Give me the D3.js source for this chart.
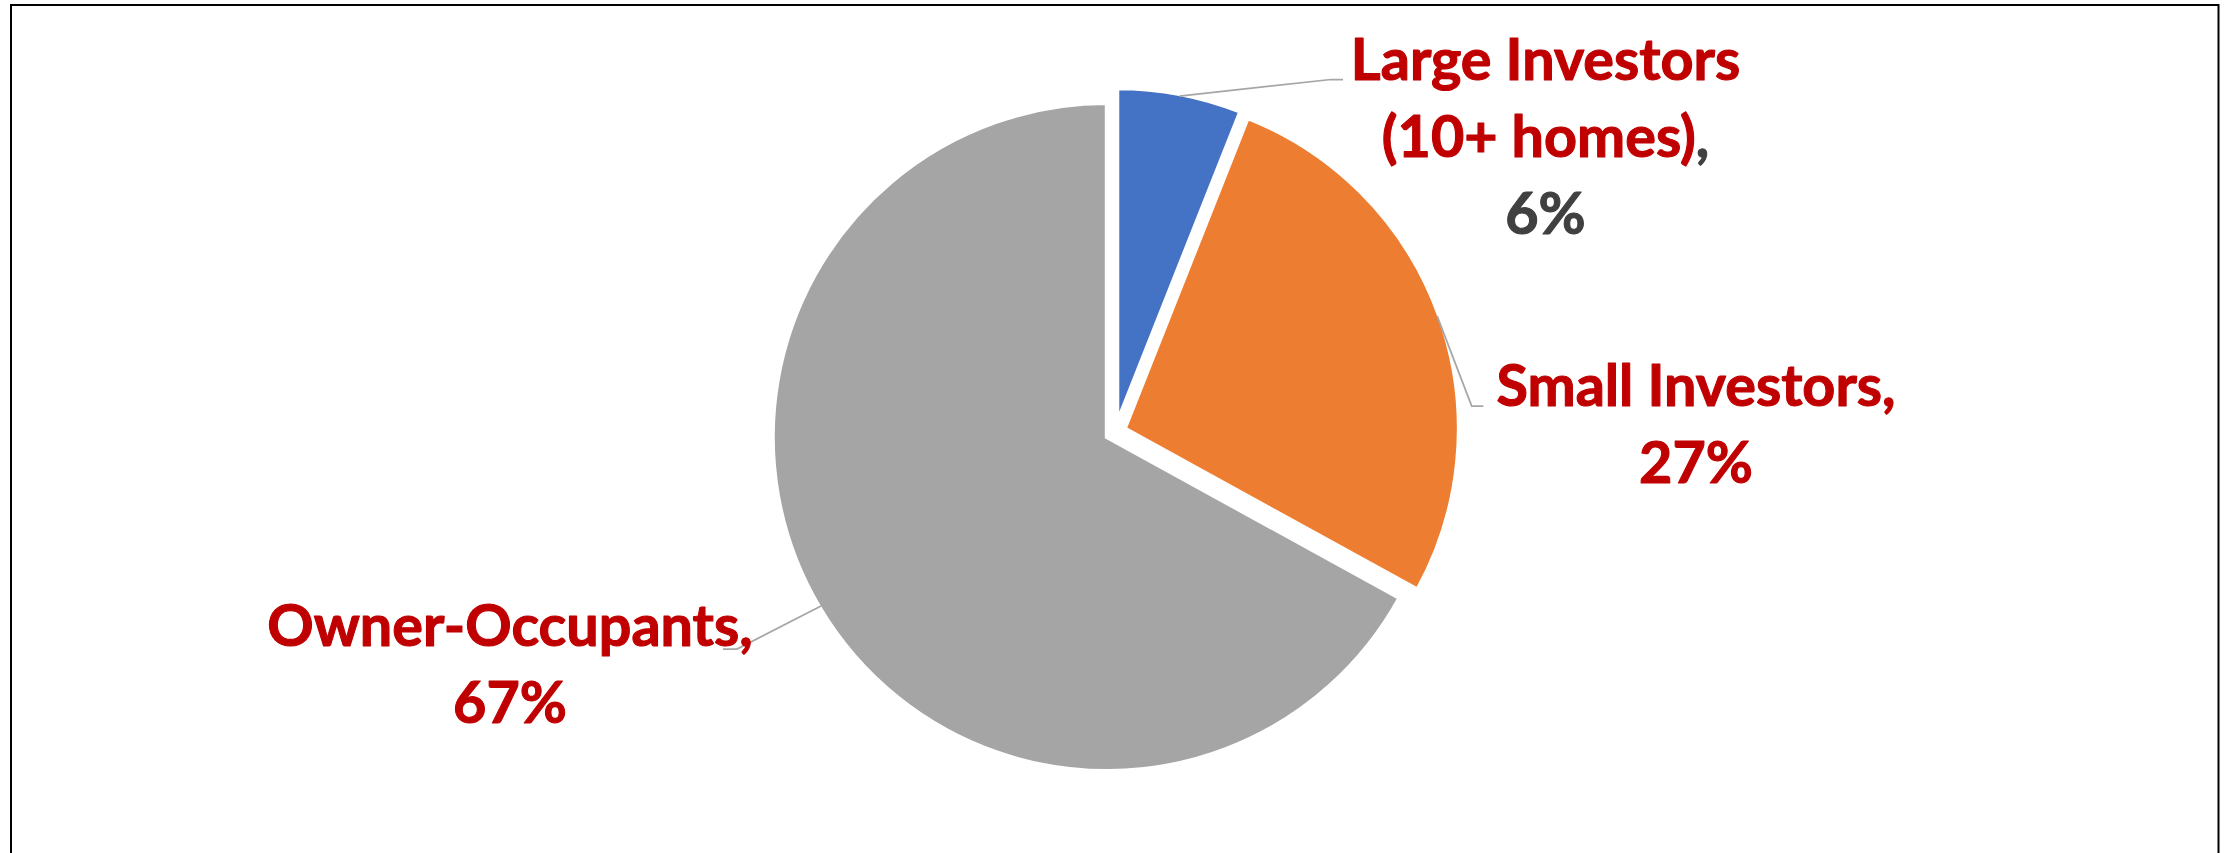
<!DOCTYPE html>
<html>
<head>
<meta charset="utf-8">
<script src="https://cdn.jsdelivr.net/npm/d3@7"></script>
<style>
  html, body { margin: 0; padding: 0; background: #fff; }
  svg { display: block; }
  .lbl { font-family: "Lato", "Noto Sans", sans-serif; font-weight: 700; }
</style>
</head>
<body>
<div id="chart"></div>
<script>
// Who bought the homes: share of purchases by buyer type (percent)
const categories = ["Large Investors", "Small Investors", "Owner-Occupants"];
const categoryNotes = ["(10+ homes)", "", ""];
const shares = [6, 27, 67];
const sliceColors = ["#4472C4", "#ED7D31", "#A5A5A5"];
const valueColors = ["#404040", "#C00000", "#C00000"];

const W = 2231, H = 853;
const svg = d3.select("#chart").append("svg")
  .attr("width", W).attr("height", H);

svg.append("rect").attr("width", W).attr("height", H).attr("fill", "#fff");

// Outer frame (bottom edge runs past the visible area)
svg.append("rect")
  .attr("x", 11).attr("y", 5)
  .attr("width", 2207.5).attr("height", 900)
  .attr("fill", "none").attr("stroke", "#000").attr("stroke-width", 2);

// Pie layout: clockwise from 12 o'clock, every slice pulled out a little
const cx = 1115.4, cy = 432, R = 334, explode = 10, gapStroke = 4;
const pie = d3.pie().sort(null).value(d => d);
const arcs = pie(shares);
const arc = d3.arc().innerRadius(0).outerRadius(R);

const mid = d => (d.startAngle + d.endAngle) / 2;
const offset = d => [explode * Math.sin(mid(d)), -explode * Math.cos(mid(d))];

const slices = svg.append("g").attr("transform", `translate(${cx},${cy})`);
slices.selectAll("path").data(arcs).join("path")
  .attr("transform", d => `translate(${offset(d)})`)
  .attr("d", arc)
  .attr("fill", (d, i) => sliceColors[i])
  .attr("stroke", "#fff")
  .attr("stroke-width", gapStroke)
  .attr("stroke-linejoin", "miter");

// Label placement: text centre / first baseline, and the leader's elbow and end
const labelLayout = [
  { x: 1545.5, y: 80,  elbow: [1331, 79.5],  end: [1343, 79.5] },
  { x: 1696,   y: 406, elbow: [1471.7, 406], end: [1483.3, 406] },
  { x: 510,    y: 646, elbow: [737, 649],    end: [723, 649] }
];
const lineStep = 77;
const red = "#C00000";

// Leader lines start on the rim at each slice's mid-angle
const leaders = svg.append("g");
arcs.forEach((d, i) => {
  const [ox, oy] = offset(d);
  const rv = R - gapStroke / 2;
  const sx = cx + ox + rv * Math.sin(mid(d));
  const sy = cy + oy - rv * Math.cos(mid(d));
  const L = labelLayout[i];
  leaders.append("path")
    .attr("d", d3.line()([[sx, sy], L.elbow, L.end]))
    .attr("fill", "none")
    .attr("stroke", "#A6A6A6")
    .attr("stroke-width", 1.75);
});

// Data labels: category name, separator, value
const labels = svg.append("g").attr("class", "lbl").attr("font-size", 57.5);
arcs.forEach((d, i) => {
  const L = labelLayout[i];
  const lines = [];
  if (categoryNotes[i]) {
    lines.push([{ t: categories[i], c: red }]);
    lines.push([{ t: categoryNotes[i], c: red }, { t: ",", c: valueColors[i] }]);
  } else {
    lines.push([{ t: categories[i], c: red }, { t: ",", c: red }]);
  }
  lines.push([{ t: d.data + "%", c: valueColors[i] }]);
  lines.forEach((parts, k) => {
    const t = labels.append("text")
      .attr("x", L.x).attr("y", L.y + k * lineStep)
      .attr("text-anchor", "middle");
    parts.forEach(p => t.append("tspan")
      .attr("fill", p.c)
      .attr("stroke", p.c)
      .attr("stroke-width", 1.1)
      .attr("stroke-linejoin", "round")
      .text(p.t));
  });
});
</script>
</body>
</html>
